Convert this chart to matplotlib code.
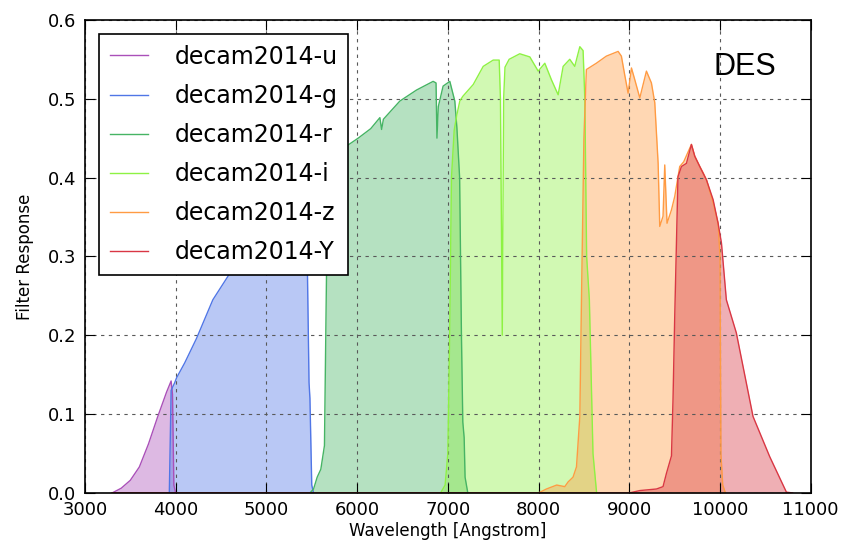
import numpy as np
import matplotlib
matplotlib.use('Agg')
import matplotlib.pyplot as plt

# Filtros DECam 2014 - curvas
u_wave = [3300, 3400, 3500, 3600, 3700, 3800, 3900, 3950, 3965, 3980, 4000]
u_resp = [0.0, 0.006, 0.016, 0.033, 0.062, 0.096, 0.128, 0.142, 0.125, 0.01, 0.0]

g_wave = [3900, 3930, 3950, 3990, 4010, 4100, 4230, 4410, 4600, 4800, 5000, 5200,
          5400, 5450, 5470, 5480, 5500, 5520]
g_resp = [0.0, 0.0, 0.13, 0.14, 0.146, 0.165, 0.196, 0.245, 0.279, 0.31, 0.33, 0.34,
          0.345, 0.3, 0.14, 0.12, 0.01, 0.0]

r_wave = [5480, 5520, 5560, 5600, 5640, 5663, 5680, 5700, 5800, 5884, 6012, 6150,
          6251, 6270, 6290, 6471, 6655, 6838, 6870, 6880, 6895, 6948, 7022, 7077,
          7100, 7130, 7150, 7165, 7180, 7190, 7220]
r_resp = [0.0, 0.005, 0.02, 0.03, 0.06, 0.28, 0.38, 0.41, 0.43, 0.44, 0.45, 0.462,
          0.476, 0.461, 0.474, 0.497, 0.511, 0.522, 0.52, 0.45, 0.49, 0.516, 0.522, 0.497,
          0.463, 0.4, 0.2, 0.09, 0.07, 0.02, 0.0]

i_wave = [6920, 6970, 7000, 7020, 7040, 7070, 7100, 7132, 7165, 7280, 7390, 7500,
          7566, 7580, 7600, 7615, 7630, 7676, 7793, 7904, 7996, 8069, 8142, 8216,
          8271, 8344, 8399, 8455, 8491, 8510, 8530, 8560, 8600, 8640]
i_resp = [0.0, 0.01, 0.05, 0.2, 0.4, 0.46, 0.48, 0.497, 0.503, 0.518, 0.541, 0.549,
          0.549, 0.5, 0.2, 0.5, 0.54, 0.55, 0.557, 0.553, 0.535, 0.545, 0.524, 0.505,
          0.541, 0.55, 0.541, 0.566, 0.561, 0.5, 0.3, 0.245, 0.05, 0.0]

z_wave = [3300, 8000, 8087, 8200, 8289, 8326, 8380, 8418, 8455, 8473, 8500, 8527,
          8637, 8747, 8877, 8913, 8950, 8987, 9024, 9061, 9116, 9189, 9244, 9281,
          9318, 9336, 9372, 9391, 9416, 9465, 9501, 9556, 9600, 9685, 9722, 9777,
          9814, 9851, 9924, 9979, 10000, 10010, 10030, 10060]
z_resp = [0.0, 0.0, 0.005, 0.01, 0.008, 0.014, 0.02, 0.033, 0.097, 0.245, 0.45, 0.537,
          0.545, 0.554, 0.56, 0.554, 0.53, 0.507, 0.539, 0.524, 0.501, 0.535, 0.52, 0.495,
          0.418, 0.338, 0.351, 0.416, 0.342, 0.359, 0.376, 0.414, 0.42, 0.442, 0.427, 0.414,
          0.406, 0.397, 0.368, 0.342, 0.3, 0.05, 0.01, 0.0]

Y_wave = [3300, 9000, 9116, 9300, 9372, 9410, 9465, 9482, 9501, 9537, 9575, 9630,
          9685, 9722, 9777, 9851, 9924, 9979, 10016, 10070, 10180, 10364, 10548, 10732, 10800]
Y_resp = [0.0, 0.0, 0.003, 0.005, 0.008, 0.025, 0.047, 0.118, 0.224, 0.401, 0.414, 0.418,
          0.442, 0.427, 0.414, 0.397, 0.372, 0.342, 0.317, 0.245, 0.203, 0.097, 0.046, 0.001, 0.0]

nomes = ['decam2014-u', 'decam2014-g', 'decam2014-r', 'decam2014-i', 'decam2014-z', 'decam2014-Y']
cores = ['#aa50b9', '#5076e6', '#46b464', '#8ef243', '#ff9b43', '#d93744']
ondas = [u_wave, g_wave, r_wave, i_wave, z_wave, Y_wave]
respostas = [u_resp, g_resp, r_resp, i_resp, z_resp, Y_resp]

fig = plt.figure(figsize=(8.41, 5.52), dpi=100)
ax = fig.add_axes([0.101, 0.107, 0.863, 0.857])

for nome, cor, w, r in zip(nomes, cores, ondas, respostas):
  ax.fill_between(w, 0, r, color=cor, alpha=0.4, lw=0)
  ax.plot(w, r, color=cor, lw=1.0, label=nome)

ax.set_xlim(3000, 11000)
ax.set_ylim(0, 0.6)
ax.set_xticks(np.arange(3000, 11001, 1000))
ax.set_yticks(np.arange(0, 0.61, 0.1))
ax.set_yticklabels(['%.1f' % v for v in np.arange(0, 0.61, 0.1)])
ax.tick_params(direction='in', length=7, top=True, right=True, labelsize=13, pad=6)
ax.grid(True, linestyle=(0, (3, 4)), color='0.35', lw=0.8)
for s in ax.spines.values():
  s.set_linewidth(1.2)

ax.set_xlabel('Wavelength [Angstrom]', fontsize=12, labelpad=2)
ax.set_ylabel('Filter Response', fontsize=12, labelpad=10)

leg = ax.legend(loc='upper left', fontsize=17, fancybox=False, framealpha=1,
                edgecolor='black', handlelength=1.6, labelspacing=0.64,
                borderaxespad=0.6, handletextpad=1.15, borderpad=0.45)
leg.get_frame().set_linewidth(1.2)

ax.text(10273, 0.54, 'DES', fontsize=22, family='Liberation Sans', ha='center', va='center')

fig.savefig('out.png', dpi=100)
